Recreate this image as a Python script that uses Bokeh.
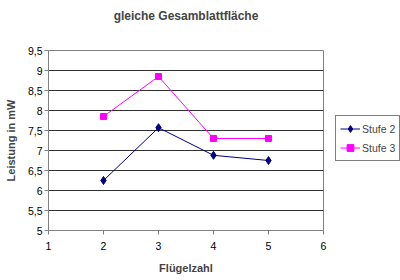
from bokeh.plotting import figure
from bokeh.models import FixedTicker, CustomJSTickFormatter, Range1d, Legend, LegendItem, Title
from bokeh.embed import file_html
from bokeh.resources import INLINE

fluegelzahl = [2, 3, 4, 5]
stufe2 = [6.25, 7.57, 6.88, 6.75]
stufe3 = [7.85, 8.85, 7.3, 7.3]
x_ticks = [1, 2, 3, 4, 5, 6]
y_ticks = [5, 5.5, 6, 6.5, 7, 7.5, 8, 8.5, 9, 9.5]

FONT = "Liberation Sans"

p = figure(frame_width=275, frame_height=180, output_backend="svg", toolbar_location=None,
           x_range=Range1d(1, 6), y_range=Range1d(5, 9.5),
           min_border_left=48, min_border_right=77, min_border_top=50, min_border_bottom=50)
p.title.text = "gleiche Gesamblattfläche"
p.title.align = "center"
p.title.text_font = FONT
p.title.text_font_size = "12px"
p.title.text_font_style = "bold"
spacer = Title(text=" ", text_font_size="10px")
p.add_layout(spacer, "above")

fmt = CustomJSTickFormatter(code="return tick.toString().replace('.', ',');")
p.xaxis.ticker = FixedTicker(ticks=x_ticks)
p.yaxis.ticker = FixedTicker(ticks=y_ticks)
p.yaxis.formatter = fmt
p.xaxis.formatter = fmt
for ax in (p.xaxis, p.yaxis):
    ax.major_label_text_font = FONT
    ax.major_label_text_font_size = "10.5px"
    ax.major_label_text_color = "black"
    ax.axis_label_text_font = FONT
    ax.axis_label_text_font_size = "11px"
    ax.axis_label_text_font_style = "bold"
    ax.axis_line_color = "#808080"
    ax.major_tick_line_color = "#808080"
    ax.major_tick_in = 0
    ax.major_tick_out = 4
    ax.minor_tick_line_color = None
p.xaxis.axis_label = "Flügelzahl"
p.yaxis.axis_label = "Leistung in mW"
p.yaxis.major_label_standoff = 2
p.xaxis.major_label_standoff = 7
p.xaxis.axis_label_standoff = 9
p.yaxis.axis_label_standoff = 8

p.xgrid.grid_line_color = None
p.ygrid.grid_line_color = "#303030"
p.ygrid.grid_line_width = 1
p.outline_line_color = "#808080"
p.background_fill_color = "white"
p.border_fill_color = "white"

r2l = p.line(fluegelzahl, stufe2, line_color="#000080", line_width=1)
r2m = p.scatter(fluegelzahl, stufe2, marker="diamond", size=8, fill_color="#000080", line_color="#000080")
r3l = p.line(fluegelzahl, stufe3, line_color="#FF00FF", line_width=1)
r3m = p.scatter(fluegelzahl, stufe3, marker="square", size=6, fill_color="#FF00FF", line_color="#FF00FF")

legend = Legend(items=[LegendItem(label="Stufe 2", renderers=[r2l, r2m]),
                       LegendItem(label="Stufe 3", renderers=[r3l, r3m])],
                location=(12, 69))
legend.label_text_font = FONT
legend.label_text_font_size = "10.5px"
legend.border_line_color = "black"
legend.padding = 4
legend.spacing = 2
legend.glyph_width = 20
legend.glyph_height = 17
legend.label_standoff = 2
legend.label_height = 17
legend.label_width = 10
legend.margin = 0
legend.background_fill_color = "white"
p.add_layout(legend, "right")

open("out.html", "w").write(file_html(p, INLINE))
